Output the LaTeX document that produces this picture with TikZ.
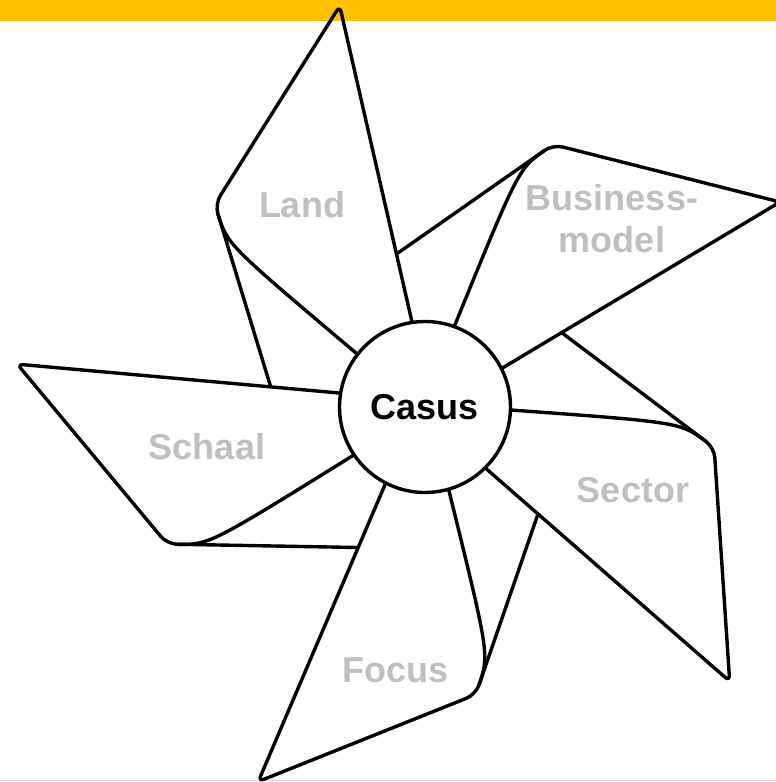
\documentclass[tikz,border=0pt]{standalone}
\usepackage{fontspec}
\setmainfont{Liberation Sans}
\usetikzlibrary{calc}

\definecolor{bandyellow}{RGB}{255,192,0}
\definecolor{labelgray}{RGB}{191,191,191}

\tikzset{
  blade/.style={line width=1.7pt, line join=round, line cap=round},
  bladelabel/.style={font=\bfseries\fontsize{18}{21}\selectfont,
                     text=labelgray, align=center},
  hub/.style={circle, draw, line width=1.7pt, fill=white, inner sep=0pt,
              minimum size=85.5pt, font=\bfseries\fontsize{18}{21}\selectfont},
}

\begin{document}
\begin{tikzpicture}[x=0.5pt, y=0.5pt]
  \useasboundingbox (-425,-375) rectangle (351,407);
  \clip (-425,-375) rectangle (351,407);

  % top band and bottom rule
  \fill[bandyellow] (-425,385.5) rectangle (351,407);
  \draw[black!15, line width=0.6pt] (-425,-373.8) -- (351,-373.8);

  % the five blades
  \foreach \ang in {102, 30, -42, -114, -186} {
    \coordinate (A) at (\ang-3.3:86);
    \coordinate (T) at (\ang:410);
    \coordinate (C) at (\ang+34:292);
    \coordinate (B) at (\ang+40:86);
    \coordinate (F) at ($(\ang+68.7:86)!0.215!(\ang+72:410)$);
    \draw[blade] (A) [rounded corners=3pt] -- (T) [rounded corners=5pt] -- (C)
                 [sharp corners] -- (F);
    \draw[blade] ($(C)!5pt!(F)$) .. controls ($(C)!0.22!(F)$) .. (B);
  }

  \node[hub] (casus) at (0,0) {Casus};

  \node[bladelabel] (land)     at (-123, 202) {Land};
  \node[bladelabel] (business) at ( 187, 188) {Business-\\model};
  \node[bladelabel] (schaal)   at (-218, -40) {Schaal};
  \node[bladelabel] (sector)   at ( 208, -83) {Sector};
  \node[bladelabel] (focus)    at ( -29,-263) {Focus};
\end{tikzpicture}
\end{document}
